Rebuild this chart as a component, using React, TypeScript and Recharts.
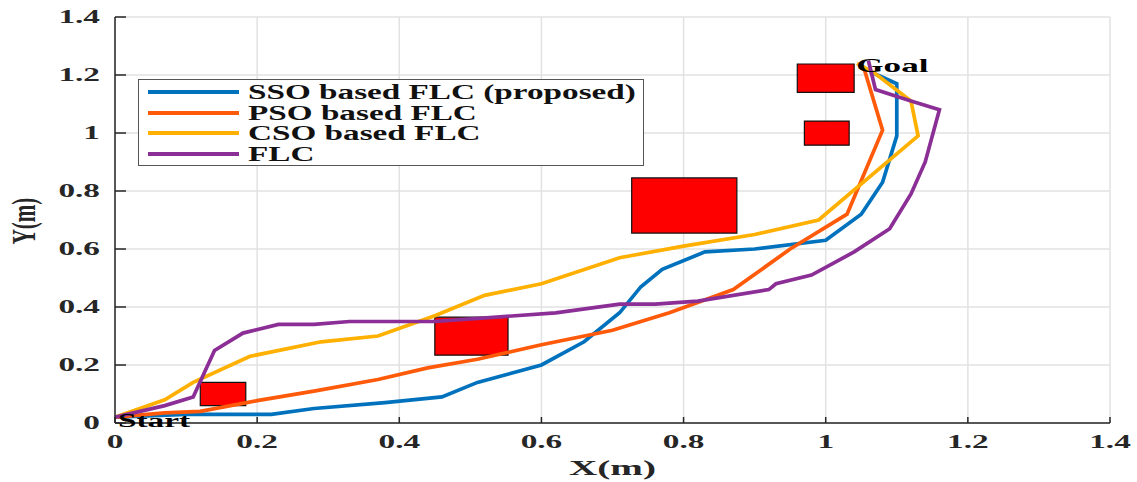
import React from 'react';
import {
  LineChart, Line, XAxis, YAxis, CartesianGrid,
  ReferenceArea, ReferenceDot, Legend,
} from 'recharts';

// axis ticks
const axisTicks = [0, 0.2, 0.4, 0.6, 0.8, 1, 1.2, 1.4];

// series names, in legend order
const seriesNames = ['SSO based FLC (proposed)', 'PSO based FLC', 'CSO based FLC', 'FLC'];

// SSO based FLC (proposed)
const ssoX = [0, 0.1, 0.22, 0.28, 0.38, 0.46, 0.51, 0.6, 0.66, 0.71, 0.74, 0.77, 0.83, 0.9, 1.0, 1.05, 1.08, 1.1, 1.1, 1.062];
const ssoY = [0.02, 0.03, 0.03, 0.05, 0.07, 0.09, 0.14, 0.2, 0.28, 0.38, 0.47, 0.53, 0.59, 0.6, 0.63, 0.72, 0.83, 0.99, 1.17, 1.212];

// PSO based FLC
const psoX = [0, 0.07, 0.12, 0.2, 0.28, 0.37, 0.44, 0.51, 0.6, 0.7, 0.78, 0.87, 0.95, 1.03, 1.08, 1.053];
const psoY = [0.02, 0.035, 0.04, 0.077, 0.11, 0.15, 0.19, 0.22, 0.27, 0.32, 0.38, 0.46, 0.6, 0.72, 1.01, 1.23];

// CSO based FLC
const csoX = [0, 0.07, 0.11, 0.19, 0.29, 0.37, 0.45, 0.52, 0.6, 0.71, 0.8, 0.9, 0.99, 1.13, 1.12, 1.069, 1.044];
const csoY = [0.02, 0.08, 0.14, 0.23, 0.28, 0.3, 0.37, 0.44, 0.48, 0.57, 0.61, 0.65, 0.7, 0.99, 1.11, 1.206, 1.24];

// FLC
const flcX = [0, 0.07, 0.11, 0.14, 0.18, 0.23, 0.28, 0.33, 0.45, 0.62, 0.71, 0.76, 0.82, 0.92, 0.93, 0.98, 1.04, 1.09, 1.12, 1.14, 1.16, 1.12, 1.07, 1.06];
const flcY = [0.02, 0.06, 0.09, 0.25, 0.31, 0.34, 0.34, 0.35, 0.35, 0.38, 0.41, 0.41, 0.42, 0.46, 0.48, 0.51, 0.59, 0.67, 0.79, 0.9, 1.08, 1.11, 1.15, 1.25];

// obstacles
const obsX1 = [0.12, 0.45, 0.727, 0.96, 0.97];
const obsX2 = [0.184, 0.553, 0.875, 1.04, 1.033];
const obsY1 = [0.06, 0.234, 0.655, 1.14, 0.958];
const obsY2 = [0.14, 0.365, 0.845, 1.238, 1.041];

const toPoints = (xs: number[], ys: number[]) => xs.map((x, i) => ({ x, y: ys[i] }));

const FONT = '"Liberation Serif", "Times New Roman", serif';
const INK = '#262626';
const SX = 1.85;
const LW = 3.7;

const LeftTick = (props: any) => {
  const { x, y, payload } = props;
  return (
    <g>
      <line x1={x + 15} x2={x + 26} y1={y} y2={y} stroke={INK} strokeWidth={1.5} />
      <text transform={`translate(${x},${y}) scale(${SX},1)`} textAnchor="end" dy="0.34em"
        fontFamily={FONT} fontWeight="bold" fontSize={18} fill={INK}>{payload.value}</text>
    </g>
  );
};

const BottomTick = (props: any) => {
  const { x, y, payload } = props;
  return (
    <g>
      <line x1={x} x2={x} y1={y} y2={y - 6} stroke={INK} strokeWidth={1.5} />
      <text transform={`translate(${x},${y + 25}) scale(${SX},1)`} textAnchor="middle"
        fontFamily={FONT} fontWeight="bold" fontSize={18} fill={INK}>{payload.value}</text>
    </g>
  );
};

const TopTick = (props: any) => {
  const { x, y } = props;
  return <line x1={x} x2={x} y1={y} y2={y + 6} stroke={INK} strokeWidth={1.5} />;
};

const RightTick = (props: any) => {
  const { x, y } = props;
  return <line x1={x} x2={x - 11} y1={y} y2={y} stroke={INK} strokeWidth={1.5} />;
};

const XLabel = (props: any) => {
  const { x, y, width } = props.viewBox;
  return (
    <text transform={`translate(${x + width / 2},${y + 52}) scale(1.78,1)`} textAnchor="middle"
      fontFamily={FONT} fontWeight="bold" fontSize={22} fill={INK}>X(m)</text>
  );
};

const YLabel = (props: any) => {
  const { y, height } = props.viewBox;
  return (
    <text transform={`translate(24,${y + height / 2 + 1}) scale(1.65,1) rotate(-90)`} textAnchor="middle" dy="0.33em"
      fontFamily={FONT} fontWeight="bold" fontSize={21} fill={INK}>Y(m)</text>
  );
};

const PlaceLabel = (text: string, dx: number, dy: number, size: number) => (props: any) => {
  const { x, y } = props.viewBox;
  return (
    <text transform={`translate(${x + dx},${y + dy}) scale(1.85,1)`}
      fontFamily={FONT} fontWeight="bold" fontSize={size} fill="#000">{text}</text>
  );
};

const renderLegend = (props: any) => {
  const payload = [...(props.payload || [])].sort(
    (a: any, b: any) => seriesNames.indexOf(a.value) - seriesNames.indexOf(b.value),
  );
  return (
    <div style={{
      border: '1px solid #555', background: '#fff', boxSizing: 'border-box',
      width: 506, height: 87, padding: '2px 0',
    }}>
      {payload.map((entry: any) => (
        <div key={entry.value} style={{ display: 'flex', alignItems: 'center', height: 20.5 }}>
          <div style={{ marginLeft: 9, width: 91, height: 4, background: entry.color }} />
          <span style={{
            marginLeft: 9, display: 'inline-block', transform: 'scaleX(1.62)', transformOrigin: 'left center',
            fontFamily: FONT, fontWeight: 'bold', fontSize: 20.5, lineHeight: '20px', color: '#111', whiteSpace: 'nowrap',
          }}>{entry.value}</span>
        </div>
      ))}
    </div>
  );
};

const App: React.FC = () => (
  <div style={{ position: 'absolute', left: 0, top: 0, background: '#fff' }}>
    <LineChart width={1137} height={482} margin={{ top: 17, right: 27, bottom: 0, left: 0 }}>
      <CartesianGrid stroke="#e2e2e2" strokeWidth={1.5} />
      <XAxis dataKey="x" type="number" domain={[0, 1.4]} ticks={axisTicks} interval={0} allowDataOverflow
        height={59} tickSize={0} tickMargin={0} tickLine={false} tick={<BottomTick />}
        axisLine={{ stroke: INK, strokeWidth: 1.5 }} label={{ content: <XLabel /> }} />
      <YAxis dataKey="y" type="number" domain={[0, 1.4]} ticks={axisTicks} interval={0} allowDataOverflow
        width={115} tickSize={0} tickMargin={15} tickLine={false} tick={<LeftTick />}
        axisLine={{ stroke: INK, strokeWidth: 1.5 }} label={{ content: <YLabel /> }} />
      <XAxis xAxisId="top" orientation="top" type="number" domain={[0, 1.4]} ticks={axisTicks} interval={0}
        allowDataOverflow height={0} tickSize={0} tickMargin={0} tickLine={false} tick={<TopTick />}
        axisLine={{ stroke: INK, strokeWidth: 1.5 }} />
      <YAxis yAxisId="right" orientation="right" type="number" domain={[0, 1.4]} ticks={axisTicks} interval={0}
        allowDataOverflow width={0} tickSize={0} tickMargin={0} tickLine={false} tick={<RightTick />}
        axisLine={{ stroke: INK, strokeWidth: 1.5 }} />
      <Legend layout="vertical" align="center" verticalAlign="middle" content={renderLegend}
        wrapperStyle={{ position: 'absolute', left: 138, top: 79, width: 506, height: 87 }} />
      <Line data={toPoints(ssoX, ssoY)} dataKey="y" name={seriesNames[0]} stroke="#0072BD"
        strokeWidth={LW} dot={false} isAnimationActive={false} type="linear" />
      <Line data={toPoints(psoX, psoY)} dataKey="y" name={seriesNames[1]} stroke="#FF5A0A"
        strokeWidth={LW} dot={false} isAnimationActive={false} type="linear" />
      <Line data={toPoints(csoX, csoY)} dataKey="y" name={seriesNames[2]} stroke="#FFB000"
        strokeWidth={LW} dot={false} isAnimationActive={false} type="linear" />
      <Line data={toPoints(flcX, flcY)} dataKey="y" name={seriesNames[3]} stroke="#8B2E96"
        strokeWidth={LW} dot={false} isAnimationActive={false} type="linear" />
      {obsX1.map((x1, i) => (
        <ReferenceArea key={i} x1={x1} x2={obsX2[i]} y1={obsY1[i]} y2={obsY2[i]}
          fill="#ff0000" fillOpacity={1} stroke="#111" strokeWidth={1.2} />
      ))}
      <ReferenceDot x={0} y={0} r={0} fill="none" stroke="none" label={{ content: PlaceLabel('Start', 3, 4, 18) }} />
      <ReferenceDot x={1.043} y={1.21} r={0} fill="none" stroke="none" label={{ content: PlaceLabel('Goal', 0, 0, 19) }} />
    </LineChart>
  </div>
);

export default App;
